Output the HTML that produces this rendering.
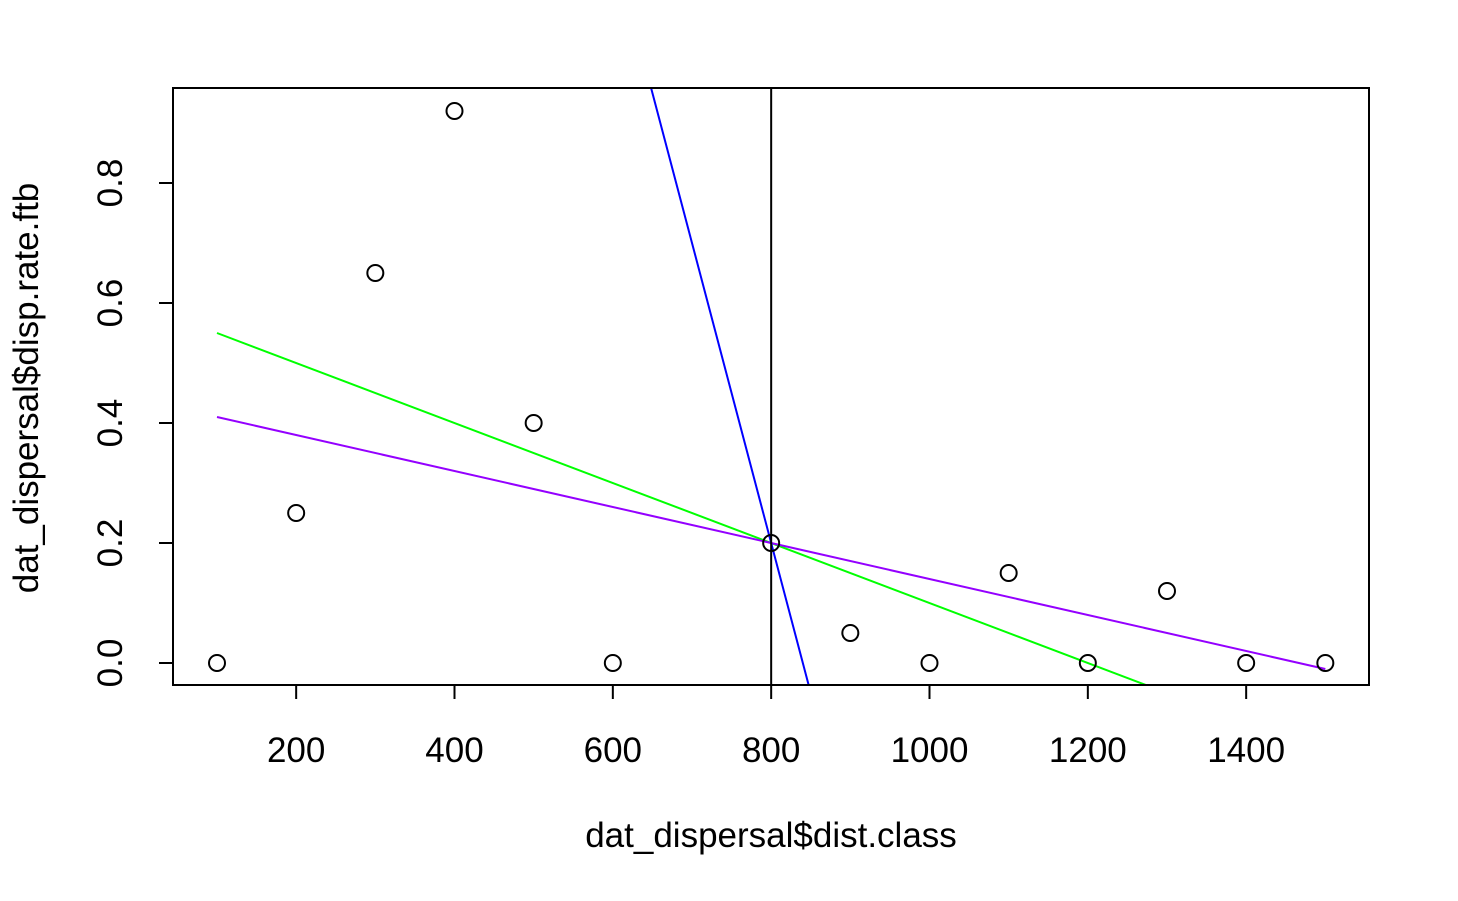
<!DOCTYPE html>
<html><head><meta charset="utf-8"><style>
html,body{margin:0;padding:0;background:#fff;width:1458px;height:901px;overflow:hidden;}
svg{display:block;}
svg text{font-family:"Liberation Sans",Arial,sans-serif;font-size:35px;fill:#000;}
</style></head><body>
<svg id="chart" width="1458" height="901" viewBox="0 0 1458 901" xmlns="http://www.w3.org/2000/svg">
<defs><clipPath id="plotclip"><rect x="173" y="88" width="1196" height="597"/></clipPath></defs>
<g id="lines" clip-path="url(#plotclip)"></g>
<g id="points"></g>
<rect x="173" y="88" width="1196" height="597" fill="none" stroke="#000" stroke-width="2"/>
<g id="xaxis"></g>
<g id="yaxis"></g>
<text x="771" y="847" text-anchor="middle">dat_dispersal$dist.class</text>
<text transform="translate(38,388) rotate(-90)" text-anchor="middle">dat_dispersal$disp.rate.ftb</text>
</svg>
<script>
const xValues=[100,200,300,400,500,600,800,900,1000,1100,1200,1300,1400,1500];
const yValues=[0,0.25,0.65,0.92,0.4,0,0.2,0.05,0,0.15,0,0.12,0,0];
const xTicks=[200,400,600,800,1000,1200,1400];
const yTicks=[0,0.2,0.4,0.6,0.8];
const yTickLabels=["0.0","0.2","0.4","0.6","0.8"];
const lineSlopes=[-0.0005,-0.0003,-0.005];
const lineColors=["#00ff00","#9400ff","#0000ff"];
const lineAnchor=[800,0.2];
const vlineX=800;

const NS="http://www.w3.org/2000/svg";
function X(v){return 217+(v-100)*(950/1200);}
function Y(v){return 663-v*600;}
function mk(tag,attrs,parent){const e=document.createElementNS(NS,tag);for(const k in attrs)e.setAttribute(k,attrs[k]);parent.appendChild(e);return e;}

const lines=document.getElementById('lines');
lineSlopes.forEach((s,i)=>{
  const y1=lineAnchor[1]+s*(100-lineAnchor[0]);
  const y2=lineAnchor[1]+s*(1500-lineAnchor[0]);
  const l=mk('line',{x1:X(100),y1:Y(y1),x2:X(1500),y2:Y(y2),stroke:lineColors[i],'stroke-width':2},lines);
  
  
});
const vl=mk('line',{x1:X(vlineX),y1:88,x2:X(vlineX),y2:685,stroke:'#000','stroke-width':2},lines);



const pts=document.getElementById('points');
xValues.forEach((x,i)=>{
  const c=mk('circle',{cx:X(x),cy:Y(yValues[i]),r:8,fill:'none',stroke:'#000','stroke-width':2},pts);
  
  
});

const xa=document.getElementById('xaxis');
mk('line',{x1:X(xTicks[0]),y1:685,x2:X(xTicks[xTicks.length-1]),y2:685,stroke:'#000','stroke-width':2},xa);
xTicks.forEach(t=>{
  mk('line',{x1:X(t),y1:685,x2:X(t),y2:699,stroke:'#000','stroke-width':2},xa);
  const tx=mk('text',{x:X(t),y:762,'text-anchor':'middle'},xa);
  tx.textContent=t;
  
  
});
const ya=document.getElementById('yaxis');
mk('line',{x1:173,y1:Y(yTicks[0]),x2:173,y2:Y(yTicks[yTicks.length-1]),stroke:'#000','stroke-width':2},ya);
yTicks.forEach((t,i)=>{
  mk('line',{x1:159,y1:Y(t),x2:173,y2:Y(t),stroke:'#000','stroke-width':2},ya);
  const tx=mk('text',{transform:`translate(122,${Y(t)}) rotate(-90)`,'text-anchor':'middle'},ya);
  tx.textContent=yTickLabels[i];
  
  
});
</script>
</body></html>
